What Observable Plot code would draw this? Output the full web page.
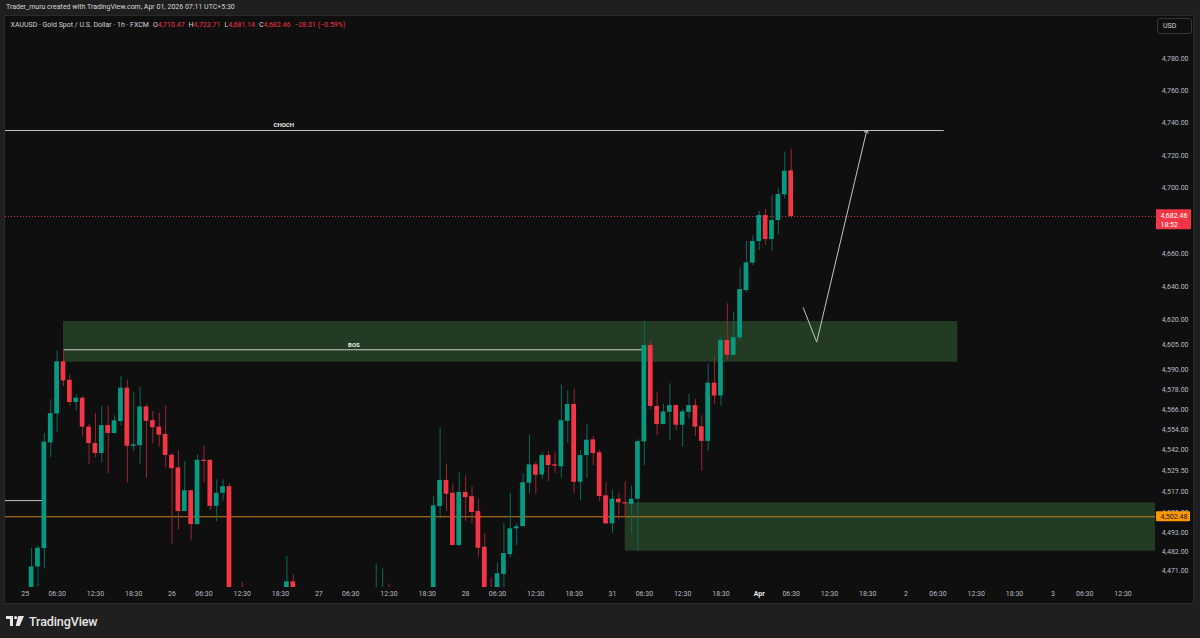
<!DOCTYPE html>
<html>
<head>
<meta charset="utf-8">
<script src="https://cdn.jsdelivr.net/npm/d3@7"></script>
<script src="https://cdn.jsdelivr.net/npm/@observablehq/plot@0.6"></script>
<style>
html,body{margin:0;padding:0;background:#1f1f1f;width:1200px;height:638px;overflow:hidden;font-family:Roboto,"Noto Sans",sans-serif;}
#top{position:absolute;left:6px;top:2px;font-size:7px;line-height:10px;color:#d6d6d6;white-space:nowrap;}
#pane{position:absolute;left:4px;top:15px;width:1188px;height:587px;border:1px solid #2b2b2b;background:#0f0f0f;}
#pane svg{display:block;}
#legend{position:absolute;left:10.5px;top:19.5px;font-size:7px;line-height:10px;color:#d1d4dc;white-space:nowrap;}
#legend .r{color:#f23645;}
#legend .k{margin-left:4px;}
#usd{position:absolute;left:1157px;top:18px;width:28px;height:14px;border:1px solid #363636;border-radius:3px;font-size:7px;line-height:14px;color:#d1d4dc;padding-left:5px;}
#logo{position:absolute;left:6px;top:612px;height:18px;display:flex;align-items:center;gap:5px;color:#e6e6e6;font-size:12.5px;font-weight:500;letter-spacing:-0.1px;}
</style>
</head>
<body>
<div id="top">Trader_muru created with TradingView.com, Apr 01, 2026 07:11 UTC+5:30</div>
<div id="pane"></div>
<div id="legend"><span>XAUUSD · Gold Spot / U.S. Dollar · 1h · FXCM</span><span class="k">O</span><span class="r">4,710.47</span><span class="k">H</span><span class="r">4,723.71</span><span class="k">L</span><span class="r">4,681.14</span><span class="k">C</span><span class="r">4,682.46</span><span class="k r">−28.01 (−0.59%)</span></div>
<div id="usd">USD</div>
<div id="logo"><svg width="18" height="10" viewBox="0 0 18 10"><path d="M0 0H7V10H4V3H0Z" fill="#e6e6e6"/><circle cx="9.6" cy="1.6" r="1.6" fill="#e6e6e6"/><path d="M12.2 0H18L13.6 10H9.6Z" fill="#e6e6e6"/></svg><span>TradingView</span></div>
<script>
// ---- candle data (bar index: hourly bars, 0 = Mar 25 00:30) ----
const candleIdx = [1,2,3,4,5,6,7,8,9,10,11,12,13,14,15,16,17,18,19,20,21,22,23,24,25,26,27,28,29,30,31,32,34,41,42,55,56,57,64,65,66,67,68,69,70,71,72,73,74,75,76,77,78,79,80,81,82,83,84,85,86,87,88,89,90,91,92,93,94,95,96,97,98,99,100,101,102,103,104,105,106,107,108,109,110,111,112,113,114,115,116,117,118,119,120];
const candleOpen = [4455,4473.1,4483.8,4546.1,4563.3,4594.5,4583.4,4570.1,4572.7,4555.5,4545.7,4539.8,4556.4,4551.7,4558.8,4578.7,4544.1,4544.5,4567.5,4559.3,4555.5,4551.1,4538.8,4531.3,4505.6,4517.8,4497.9,4535.8,4535.8,4508.6,4516.3,4520.2,4458,4455,4464.4,4452,4450,4458,4455,4508.5,4523.9,4516.3,4485.6,4516.8,4514.3,4505.6,4484.6,4459,4455,4468.7,4480.3,4495.4,4496.7,4522.3,4533.1,4527.1,4538.6,4533.1,4531.9,4558.9,4569.0,4522.8,4538.6,4547.9,4540.2,4514.8,4498.3,4512.8,4510.8,4509.8,4512.8,4546.7,4604.3,4567.8,4557.0,4564.3,4568.3,4556.6,4564.3,4568.3,4555.7,4547.0,4581.7,4574.0,4607.3,4598.4,4608.9,4637.4,4654.0,4667.2,4683.1,4668.4,4680.0,4695.7,4710.47];
const candleHigh = [4484.0,4485.3,4551.7,4571.8,4601.0,4601.8,4586.6,4574.7,4573.7,4557.3,4563.5,4567.8,4567.8,4562.3,4585.6,4583.6,4576.1,4579.1,4568.9,4564.9,4563.9,4568.2,4539.8,4541.6,4535.0,4518.0,4538.9,4544.1,4536.0,4524.2,4524.2,4521.9,4464.0,4479.3,4468.5,4474.9,4471.9,4463.0,4514.4,4554.9,4533.6,4521.9,4528.4,4526.6,4520.2,4513.0,4492.4,4466.5,4475.3,4498.7,4516.3,4498.3,4528.0,4550.4,4534.6,4540.2,4540.8,4540.2,4580.7,4577.3,4578.2,4541.6,4556.9,4550.0,4541.6,4522.8,4518.1,4516.1,4523.2,4520.5,4547.9,4618.9,4606.7,4576.3,4569.0,4581.3,4568.5,4565.9,4575.0,4572.0,4562.3,4593.3,4597.3,4609.3,4629.4,4624.4,4651.1,4667.2,4670.7,4685.6,4686.8,4695.3,4699.4,4721.9,4723.71];
const candleLow = [4450,4461.5,4471.9,4537.4,4552.4,4579.7,4567.8,4565.4,4549.6,4533.3,4537.3,4534.2,4528.0,4551.5,4556.4,4522.3,4541.1,4533.3,4525.0,4545.5,4543.7,4531.4,4486.5,4494.8,4505.4,4488.3,4497.5,4522.3,4506.2,4499.5,4511.6,4450,4448,4450,4450,4448,4445,4448,4450,4501.1,4505.6,4485.3,4485.0,4499.8,4498.3,4478.9,4450,4448,4450,4458,4478.5,4485.6,4496.5,4516.3,4515.8,4524.3,4523.3,4528.0,4524.9,4545.7,4516.3,4512.0,4525.0,4532.7,4511.4,4497.9,4492.8,4500.6,4502.2,4492.4,4482.3,4532.5,4565.9,4550.5,4556.8,4547.5,4553.3,4543.7,4560.2,4550.0,4529.3,4541.1,4569.0,4567.8,4595.1,4598.0,4606.9,4636.1,4652.6,4661.7,4664.8,4661.3,4671.3,4693.1,4681.14];
const candleClose = [4473.1,4484.0,4546.5,4563.5,4594.5,4583.0,4570.1,4572.7,4555.5,4545.7,4539.8,4556.4,4551.7,4559.2,4578.7,4544.1,4545.0,4567.5,4558.9,4555.1,4550.7,4538.6,4530.9,4505.6,4517.8,4497.9,4535.8,4535.1,4508.6,4516.3,4520.2,4455,4452,4464.4,4455,4459,4458,4452,4508.9,4523.9,4515.7,4485.6,4516.8,4513.7,4505.0,4484.0,4455,4452,4469.1,4480.9,4495.4,4496.6,4522.5,4533.1,4526.9,4538.6,4532.7,4532.3,4559.3,4569.0,4522.8,4538.6,4547.7,4539.8,4514.4,4498.3,4512.8,4510.7,4510.1,4512.8,4546.9,4604.3,4567.8,4557.0,4564.5,4568.3,4556.6,4564.5,4568.3,4555.5,4547.0,4581.7,4574.0,4607.3,4598.4,4608.9,4638.0,4654.2,4667.2,4683.1,4668.4,4680.0,4695.9,4710.2,4682.46];

// ---- axis ticks ----
const yTicks = [4780,4760,4740,4720,4700,4660,4640,4620,4605,4590,4578,4566,4554,4542,4529.5,4517,4505,4493,4482,4471];
const xTickIdx = [0,5,11,17,23,28,34,40,46,51,57,63,69,74,80,86,92,97,103,109,115,120,126,132,138,143,149,155,161,166,172];
const xTickLabels = ["25","06:30","12:30","18:30","26","06:30","12:30","18:30","27","06:30","12:30","18:30","28","06:30","12:30","18:30","31","06:30","12:30","18:30","Apr","06:30","12:30","18:30","2","06:30","12:30","18:30","3","06:30","12:30"];
const monthTickIdx = [115];

// ---- drawings ----
const zoneX1 = [6, 94];
const zoneX2 = [146.1, 190];
const zoneLow = [4594.2, 4482.3];
const zoneHigh = [4618.7, 4510.6];

const segLabels = ["CHOCH", "BOS", ""];
const segX1 = [-62.9, 6, -10];
const segX2 = [143.9, 97, 3];
const segPrice = [4735.3, 4601.7, 4512.0];
const segColor = ["#c2c2c2", "#c9d3c9", "#c2c2c2"];

const arrowX = [121.9, 124.0, 131.8];
const arrowY = [4627.0, 4606.3, 4734.6];

const orangeLevel = 4502.48;
const lastPrice = 4682.46;
const lastPriceLabel = "4,682.46";
const countdownLabel = "18:52";
const orangeLabel = "4,502.48";

// ---- build tables ----
const candles = candleIdx.map((i, k) => ({i, open: candleOpen[k], high: candleHigh[k], low: candleLow[k], close: candleClose[k], up: candleClose[k] >= candleOpen[k]}));
const zones = zoneX1.map((x1, k) => ({x1, x2: zoneX2[k], y1: zoneLow[k], y2: zoneHigh[k]}));
const segs = segLabels.map((label, k) => ({label, x1: segX1[k], x2: segX2[k], y: segPrice[k], color: segColor[k]}));
const arrow = arrowX.map((x, k) => ({x, y: arrowY[k]}));
const tickLabel = new Map(xTickIdx.map((d, k) => [d, xTickLabels[k]]));
const normalTicks = xTickIdx.filter(d => !monthTickIdx.includes(d));

const GREEN = "#089981", RED = "#f23645";

const chart = Plot.plot({
  width: 1188, height: 587,
  marginLeft: 0, marginRight: 38, marginTop: 0, marginBottom: 16,
  style: {background: "#0f0f0f", color: "#b2b5be", fontFamily: "Roboto, sans-serif", fontSize: "7px", overflow: "visible"},
  x: {type: "linear", domain: [-3.086, 177.08], axis: null},
  y: {type: "log", domain: [4461.1, 4806.3], axis: null},
  marks: [
    Plot.rect(zones, {x1: "x1", x2: "x2", y1: "y1", y2: "y2", fill: "#223b22", clip: true}),
    Plot.ruleY([orangeLevel], {stroke: "#c98218", strokeWidth: 1.2}),
    Plot.ruleY([lastPrice], {stroke: RED, strokeDasharray: "1,2", strokeOpacity: 0.85}),
    Plot.link(segs, {x1: "x1", x2: "x2", y1: "y", y2: "y", stroke: "color", strokeWidth: 1, clip: true}),
    Plot.ruleX(candles, {x: "i", y1: "low", y2: "high", stroke: d => d.up ? "#0b6a5a" : "#9a2631", strokeWidth: 1, clip: true}),
    Plot.rect(candles, {x1: d => d.i - 0.37, x2: d => d.i + 0.37, y1: "open", y2: "close", fill: d => d.up ? GREEN : RED, clip: true}),
    Plot.text(segs.filter(d => d.label), {x: d => (d.x1 + d.x2) / 2, y: "y", text: "label", fill: "#ececec", fontWeight: "bold", fontSize: 6, dy: -5}),
    Plot.line(arrow, {x: "x", y: "y", stroke: "#c4c4c4", strokeWidth: 1, markerEnd: "arrow"}),
    Plot.axisY({ticks: yTicks, anchor: "right", tickSize: 0, tickPadding: 0, dx: 33, textAnchor: "end", tickFormat: d3.format(",.2f"), label: null, fill: "#b8bbc2"}),
    Plot.axisX({ticks: normalTicks, tickFormat: d => tickLabel.get(d), tickSize: 0, tickPadding: 4, label: null, fill: "#b8bbc2"}),
    Plot.axisX({ticks: monthTickIdx, tickFormat: d => tickLabel.get(d), tickSize: 0, tickPadding: 4, label: null, fill: "#e6e8ee", fontWeight: "bold"})
  ]
});
document.getElementById("pane").appendChild(chart);

// price tags on the price axis, placed with the chart's own y scale
const ys = chart.scale("y");
const svg = d3.select(chart);
const tags = svg.append("g").attr("font-family", "Roboto, sans-serif").attr("font-size", 7).attr("text-anchor", "start");
const pyLast = ys.apply(lastPrice);
tags.append("rect").attr("x", 1151).attr("y", pyLast - 6.7).attr("width", 35).attr("height", 20).attr("fill", RED).attr("rx", 1);
tags.append("text").attr("x", 1155.5).attr("y", pyLast).attr("dy", "0.35em").attr("text-anchor", "start").attr("fill", "#ffffff").text(lastPriceLabel);
tags.append("text").attr("x", 1155.5).attr("y", pyLast + 9).attr("dy", "0.35em").attr("text-anchor", "start").attr("fill", "#ffffff").text(countdownLabel);
const pyOr = ys.apply(orangeLevel);
tags.append("rect").attr("x", 1151).attr("y", pyOr - 5).attr("width", 34).attr("height", 10).attr("fill", "#ff9800").attr("rx", 1);
tags.append("text").attr("x", 1155.5).attr("y", pyOr).attr("dy", "0.35em").attr("text-anchor", "start").attr("fill", "#131722").text(orangeLabel);
</script>
</body>
</html>
